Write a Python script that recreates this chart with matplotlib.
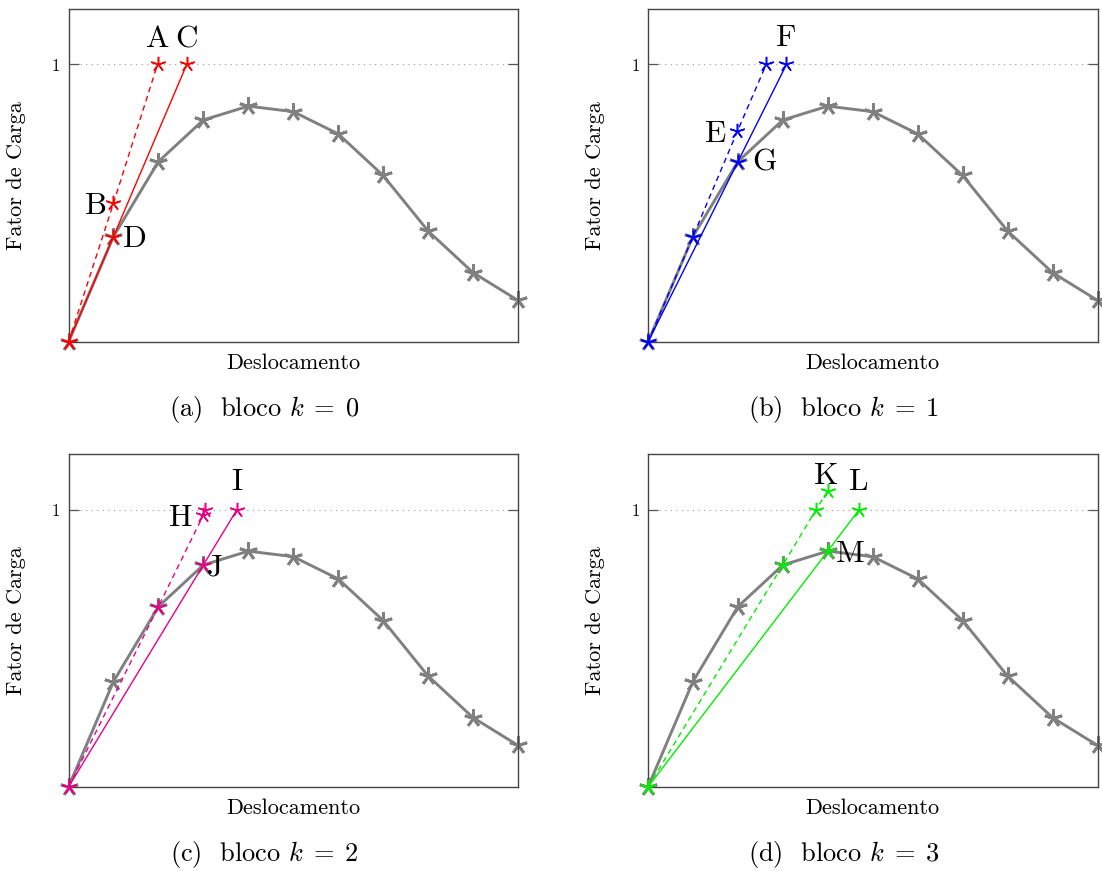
import matplotlib

matplotlib.use("Agg")
import matplotlib.pyplot as plt

plt.rcParams["font.family"] = "serif"
plt.rcParams["font.serif"] = ["cmr10", "DejaVu Serif"]
plt.rcParams["mathtext.fontset"] = "cm"
plt.rcParams["axes.unicode_minus"] = False

GRAY = "#808080"
STAR = (5, 2, 0)

# equilibrium path (same in every panel)
curve_x = [0, 1, 2, 3, 4, 5, 6, 7, 8, 9, 10]
curve_y = [0, 0.38, 0.65, 0.80, 0.85, 0.83, 0.75, 0.60, 0.40, 0.25, 0.15]

captions = [r"(a)  bloco $k\;=\;0$", r"(b)  bloco $k\;=\;1$",
            r"(c)  bloco $k\;=\;2$", r"(d)  bloco $k\;=\;3$"]
colors = ["#ff0000", "#0000ff", "#e8008a", "#00ee00"]

# predictor (dashed) and corrected (solid) paths per block
pred_x = [[0, 1.0, 1.98], [0, 1.0, 1.99, 2.63], [0, 2.0, 3.0, 3.04], [0, 3.0, 3.74, 4.0]]
pred_y = [[0, 0.50, 1.0], [0, 0.38, 0.76, 1.0], [0, 0.65, 0.98, 1.0], [0, 0.80, 1.0, 1.067]]
corr_x = [[0, 1.0, 2.63], [0, 2.0, 3.08], [0, 3.0, 3.75], [0, 4.0, 4.7]]
corr_y = [[0, 0.38, 1.0], [0, 0.65, 1.0], [0, 0.80, 1.0], [0, 0.85, 1.0]]

# point labels: (text, x, y)
labels = [
    [("A", 1.98, 1.09), ("C", 2.63, 1.09), ("B", 0.6, 0.49), ("D", 1.48, 0.37)],
    [("F", 3.07, 1.095), ("E", 1.5, 0.75), ("G", 2.6, 0.645)],
    [("I", 3.75, 1.10), ("H", 2.5, 0.97), ("J", 3.25, 0.79)],
    [("K", 3.97, 1.12), ("L", 4.7, 1.10), ("M", 4.5, 0.84)],
]

W, H = 1102, 871
fig = plt.figure(figsize=(W / 100, H / 100), dpi=100)
boxes = [(68.5, 9.0), (648.0, 9.0), (68.5, 454.0), (648.0, 454.0)]
aw, ah = 449.5, 333.0

for i, (lx, ty) in enumerate(boxes):
    ax = fig.add_axes([lx / W, 1 - (ty + ah) / H, aw / W, ah / H])
    c = colors[i]
    ax.axhline(1, color="#999999", ls=(0, (1, 4)), lw=0.8, zorder=1)
    ax.plot(curve_x, curve_y, color=GRAY, lw=2.1, marker=STAR, ms=13, mew=2.0,
            zorder=2, clip_on=False)
    ax.plot(pred_x[i], pred_y[i], color=c, lw=1.0, ls=(0, (4, 3)), zorder=3, clip_on=False)
    ax.plot(corr_x[i], corr_y[i], color=c, lw=1.0, zorder=3, clip_on=False)
    ax.plot(pred_x[i], pred_y[i], ls="none", marker=STAR, ms=11, mew=1.1, color=c,
            zorder=4, clip_on=False)
    ax.plot(corr_x[i], corr_y[i], ls="none", marker=STAR, ms=11, mew=1.1, color=c,
            zorder=4, clip_on=False)
    for t, x, y in labels[i]:
        ax.text(x, y, t, fontsize=22.5, ha="center", va="center", zorder=5)

    ax.set_xlim(0, 10)
    ax.set_ylim(0, 1.2)
    ax.set_xticks([])
    ax.set_yticks([1])
    ax.set_yticklabels(["1"])
    ax.tick_params(axis="y", direction="in", length=7, width=0.9, color="#555555",
                   right=True, labelsize=12, pad=6)
    for s in ax.spines.values():
        s.set_color("#444444")
        s.set_linewidth(1.0)
    ax.set_xlabel("Deslocamento", fontsize=16, labelpad=8)
    ax.set_ylabel("Fator de Carga", fontsize=16)
    ax.yaxis.set_label_coords(-0.095, 0.5)
    ax.text(0.435, -0.202, captions[i], fontsize=19, ha="center", va="center",
            transform=ax.transAxes)

fig.savefig("out.png", dpi=100)
